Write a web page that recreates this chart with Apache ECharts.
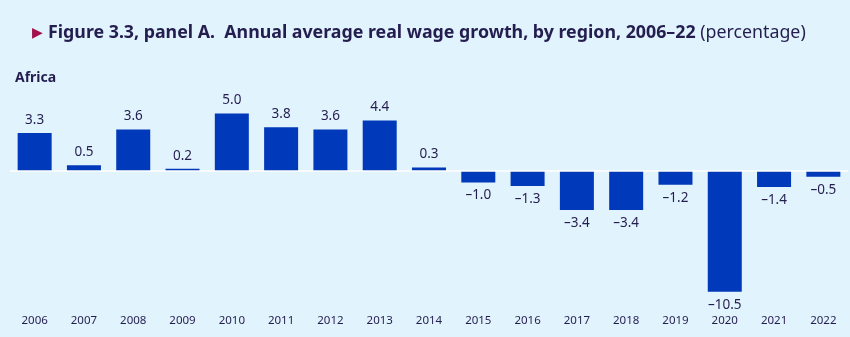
<!DOCTYPE html>
<html><head><meta charset="utf-8">
<script src="https://cdn.jsdelivr.net/npm/echarts@6/dist/echarts.min.js"></script>
<style>html,body{margin:0;padding:0;background:#e1f3fd}#c{width:850px;height:337px}</style>
</head><body><div id="c"></div>
<script>
const years = ['2006','2007','2008','2009','2010','2011','2012','2013','2014','2015','2016','2017','2018','2019','2020','2021','2022'];
const growth = [3.3,0.5,3.6,0.2,5.0,3.8,3.6,4.4,0.3,-1.0,-1.3,-3.4,-3.4,-1.2,-10.5,-1.4,-0.5];
const titleBold = 'Figure 3.3, panel A.  Annual average real wage growth, by region, 2006–22';
const titleNormal = ' (percentage)';
const regionName = 'Africa';

const chart = echarts.init(document.getElementById('c'));
const txt = '#241d4f';
chart.setOption({
  backgroundColor: '#e1f3fd',
  animation: false,
  title: [{
    left: 27, top: 19,
    text: '{tri|▶} {b|' + titleBold + '}{n|' + titleNormal + '}',
    textStyle: {
      fontWeight: 'normal',
      rich: {
        tri: {color: '#a3124d', fontSize: 14, fontFamily: 'Noto Sans', fontWeight: 'normal'},
        b: {color: txt, fontSize: 17.8, fontWeight: 'bold', fontFamily: 'Noto Sans'},
        n: {color: txt, fontSize: 17.8, fontWeight: 'normal', fontFamily: 'Noto Sans'}
      }
    }
  },{
    left: 10, top: 66, text: regionName,
    textStyle: {color: txt, fontSize: 14, fontWeight: 'bold', fontFamily: 'Noto Sans'}
  }],
  grid: {left: 10, right: 2, top: 107.75, bottom: 45.25},
  xAxis: {
    type: 'category', data: years,
    axisLine: {show: false}, axisTick: {show: false},
    axisLabel: {color: txt, fontSize: 11.5, fontFamily: 'Noto Sans', margin: 23}
  },
  yAxis: {
    type: 'value', min: -10.5, max: 5.5, show: false, splitLine: {show: false}
  },
  series: [{
    type: 'bar', data: growth, barWidth: 34,
    itemStyle: {color: '#0039b9'},
    label: {
      show: true, position: 'outside', distance: 6,
      color: txt, fontSize: 13.5, fontFamily: 'Noto Sans',
      formatter: p => (p.value < 0 ? '–' + Math.abs(p.value).toFixed(1) : p.value.toFixed(1))
    },
    markLine: {
      silent: true, symbol: 'none', label: {show: false},
      lineStyle: {color: '#ffffff', width: 1.5, type: 'solid'},
      data: [{yAxis: 0}]
    },
    z: 3
  }]
});
</script></body></html>
